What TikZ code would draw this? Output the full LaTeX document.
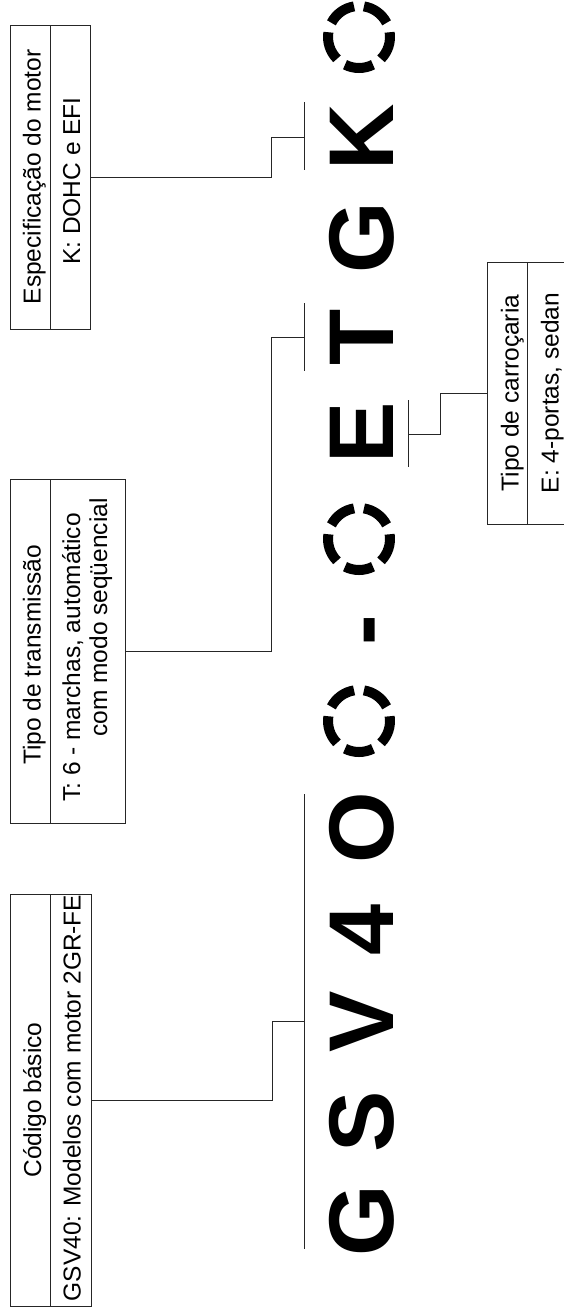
\documentclass[tikz,border=0pt]{standalone}
\usepackage{fontspec}
\setmainfont{Liberation Sans}
\usetikzlibrary{calc}
\tikzset{
  cell/.style={draw=black!85, line width=1pt, inner sep=0pt, outer sep=0pt},
  lbl/.style={rotate=90, anchor=base, inner sep=0pt, font=\fontsize{24.5}{28}\selectfont},
  big/.style={rotate=90, anchor=base, inner sep=0pt, font=\fontsize{92}{92}\selectfont\bfseries},
  wire/.style={line width=1pt, draw=black!85},
  ring/.style={line width=10pt, draw=black},
}
\begin{document}
\begin{tikzpicture}[x=1pt,y=1pt]
\useasboundingbox[fill=white] (0,0) rectangle (564,-1312);

% ---- boxes ----
% Especificacao do motor
\node[cell, minimum width=40pt, minimum height=304pt] (kh) at (30,-177) {};
\node[cell, minimum width=40pt, minimum height=304pt] (kc) at (70,-177) {};
\node[lbl] (kht) at (40.5,-177) {Especificação do motor};
\node[lbl] (kct) at (80,-181) {K: DOHC e EFI};

% Tipo de transmissao
\node[cell, minimum width=40pt, minimum height=344pt] (th) at (30,-651) {};
\node[cell, minimum width=75.7pt, minimum height=344pt] (tc) at (87.85,-651) {};
\node[lbl] (tht) at (40.5,-655) {Tipo de transmissão};
\node[lbl] (tct1) at (80,-657.5) {T: 6 - marchas, automático};
\node[lbl] (tct2) at (107,-617.5) {com modo seqüencial};

% Codigo basico
\node[cell, minimum width=40.7pt, minimum height=412pt] (ch) at (30.35,-1100) {};
\node[cell, minimum width=40.3pt, minimum height=412pt] (cc) at (70.85,-1100) {};
\node[lbl] (cht) at (41,-1100) {Código básico};
\node[lbl] (cct) at (80.5,-1098) {GSV40: Modelos com motor 2GR-FE};

% Tipo de carrocaria
\node[cell, minimum width=40pt, minimum height=262pt] (eh) at (507.7,-393) {};
\node[cell, minimum width=40pt, minimum height=262pt] (ec) at (547.7,-393) {};
\node[lbl] (eht) at (518.5,-393) {Tipo de carroçaria};
\node[lbl] (ect) at (558.5,-393) {E: 4-portas, sedan};

% ---- big code letters ----
\node[big] (l1) at (393,-1221) {G};
\node[big] (l2) at (393,-1122) {S};
\node[big] (l3) at (393,-1022) {V};
\node[big] (l4) at (393,-930) {4};
\node[big] (l5) at (393,-828) {O};
\node[big] (l7) at (393,-630) {-};
\node[big] (l9) at (393,-433) {E};
\node[big] (l10) at (393,-337) {T};
\node[big] (l11) at (393,-238) {G};
\node[big] (l12) at (393,-137) {K};

% dashed placeholder circles
\foreach \cy in {-37,-539,-721}{
  \foreach \a in {54,126,198,270,342}{
    \draw[ring, shift={(359,\cy)}] (\a-26.8:31) arc[start angle=\a-26.8, end angle=\a+26.8, radius=31];
  }
}

% ---- brackets and connectors ----
\coordinate (kt) at (304.5,-137);
\coordinate (tt) at (304,-337);
\coordinate (gt) at (304,-1021);
\coordinate (et) at (408,-434);
\coordinate (gtop) at (304,-794);
\coordinate (gbot) at (304,-1249);

\draw[wire] ($(kt)+(0,35)$) -- ($(kt)+(0,-33)$);
\draw[wire] ($(tt)+(0,34)$) -- ($(tt)+(0,-34)$);
\draw[wire] ($(et)+(0,34)$) -- ($(et)+(0,-33)$);
\draw[wire] (gtop) -- (gbot);

\draw[wire] (kc.east) -- ++(181.7,0) |- (kt);
\draw[wire] (tc.east) -- ++(145.3,0) |- (tt);
\draw[wire] (cc.east) -- ++(181,0) |- (gt);
\draw[wire] (et) -- ++(32,0) |- (eh.west);
\end{tikzpicture}
\end{document}
